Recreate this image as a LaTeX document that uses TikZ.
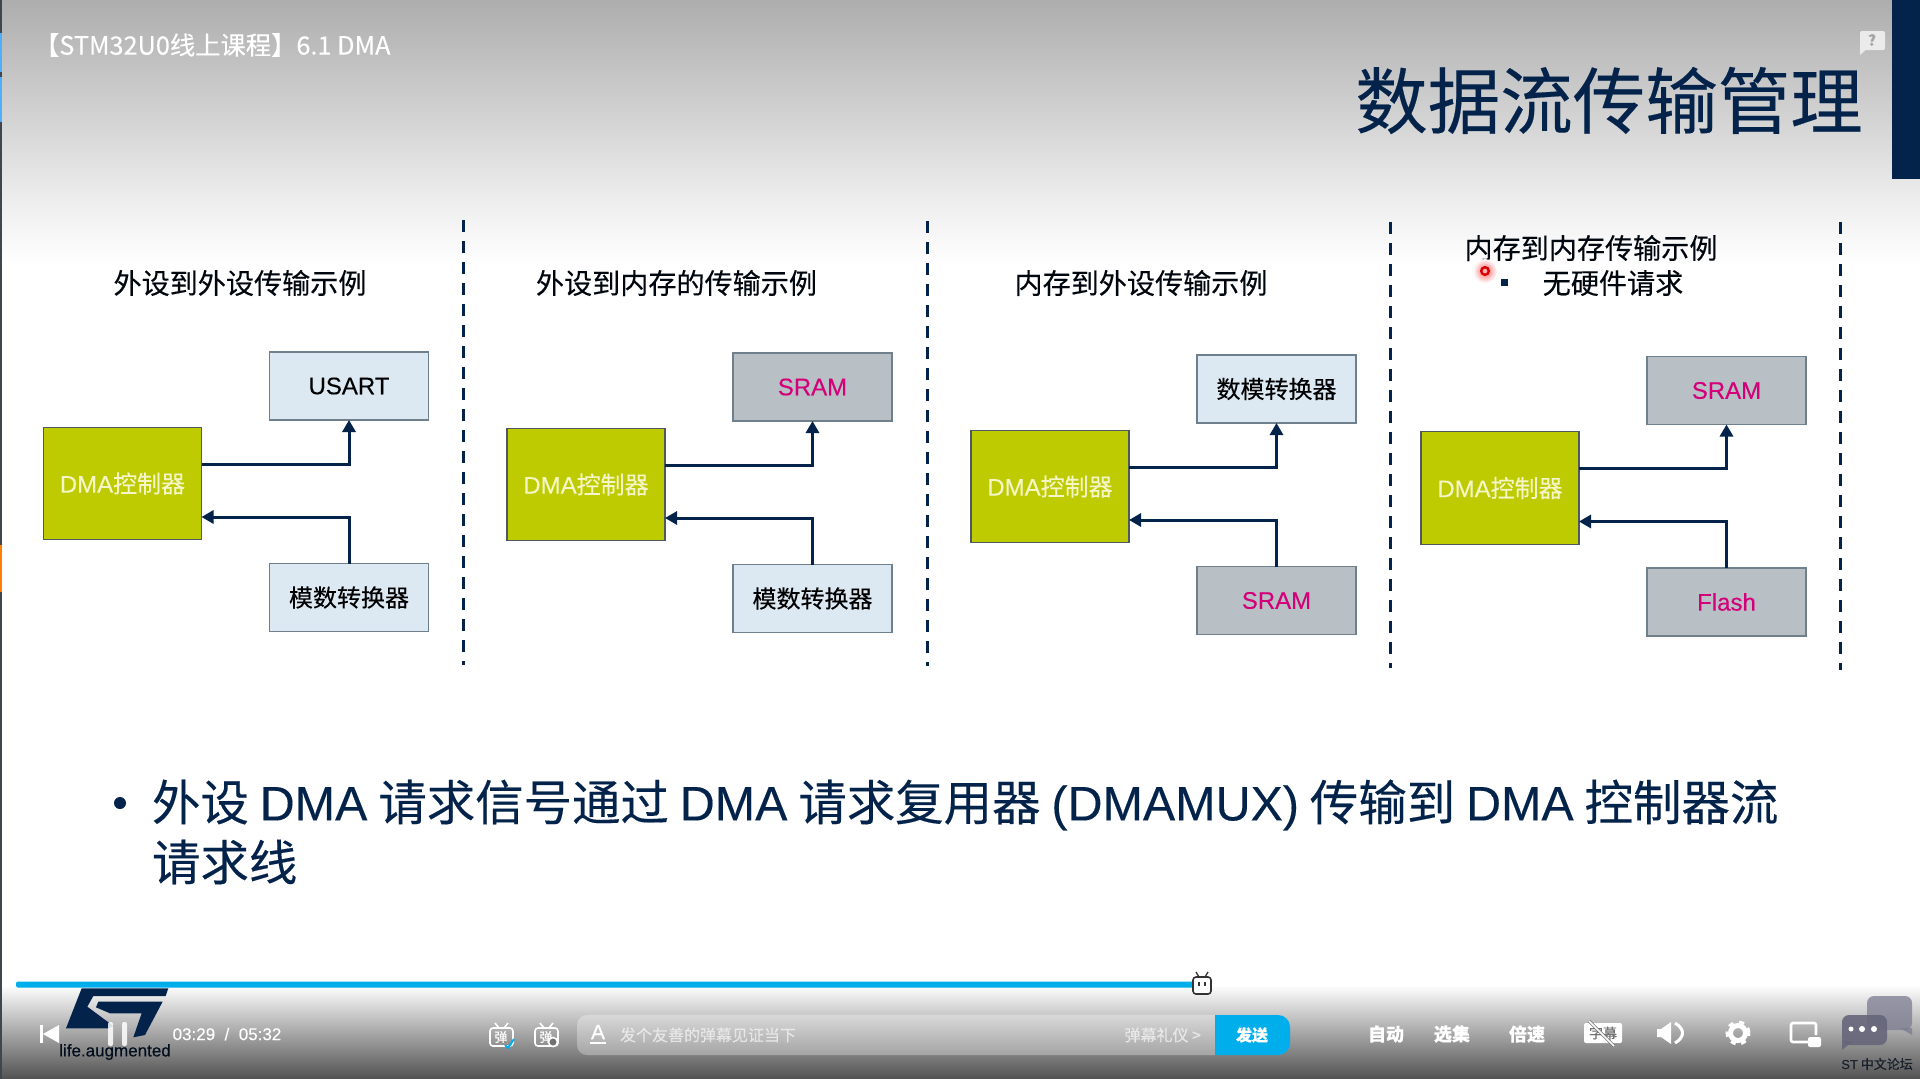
\documentclass[tikz,border=0pt]{standalone}
\usepackage{fontspec}
\usetikzlibrary{arrows.meta}
\setmainfont{Noto Sans CJK SC}[FakeBold=0.25]
\newfontfamily\lat{Liberation Sans}[FakeBold=0.25]
\newcommand{\fsz}[1]{\fontsize{#1}{#1}\selectfont}
\definecolor{navy}{HTML}{03234B}
\definecolor{lime}{HTML}{BECB00}
\definecolor{limetext}{HTML}{F4F6C8}
\definecolor{lightbox}{HTML}{DCE8F2}
\definecolor{greybox}{HTML}{B8BFC5}
\definecolor{magtext}{HTML}{D4007A}
\definecolor{edge}{HTML}{6F7F8C}
\definecolor{bili}{HTML}{00AEEC}
\tikzset{
  x=1pt,y=-1pt,
  every node/.style={inner sep=0pt,outer sep=0pt,align=center},
  dmabox/.style={draw=edge!70!black,line width=1.2pt,fill=lime,minimum width=158pt,minimum height=112.5pt,text=limetext,font=\fsz{24}},
  periph/.style={draw=edge,line width=1.2pt,fill=lightbox,minimum width=159pt,minimum height=68pt,text=black,font=\fsz{24}},
  memory/.style={periph,fill=greybox,text=magtext},
  flow/.style={draw=navy,line width=3pt,-{Triangle[length=12pt,width=13pt]},line join=miter},
  divider/.style={draw=navy,line width=3pt,dash pattern=on 12pt off 9pt},
  paneltitle/.style={text=black!80!navy,font=\fsz{28.1}},
  uitext/.style={text=white,font=\fsz{18}},
}
\newcommand{\dmapanel}[7]{%
  \begin{scope}[shift={(#2,#3)}]
    \node[dmabox] (#1dma) at (122.5,483.5) {{\lat DMA}控制器};
    \node[#4] (#1top) at (349,386) {#5};
    \node[#6] (#1bot) at (349,597.5) {#7};
    \draw[flow] ([yshift=19.5pt]#1dma.east) -| (#1top.south);
    \draw[flow] (#1bot.north) |- ([yshift=-33.5pt]#1dma.east);
  \end{scope}}
\begin{document}
\begin{tikzpicture}
\useasboundingbox (0,0) rectangle (1920,1079);
% background
\fill[white] (0,0) rectangle (1920,1079);
\shade[top color=black!32,bottom color=black!7] (0,0) rectangle (1920,200);
\shade[top color=black!7,bottom color=white] (0,200) rectangle (1920,265);
\shade[top color=white,bottom color=black!68] (0,985) rectangle (1920,1079);
% left edge
\fill[black!80!cyan] (0,0) rectangle (1.5,1079);
\fill[blue!45!cyan!70] (0,33) rectangle (1.5,72);
\fill[blue!45!cyan!70] (0,77) rectangle (1.5,122);
\fill[orange] (0,545) rectangle (1.5,592);
% slide title
\fill[navy] (1892,0) rectangle (1920,179);
\node[text=navy,font=\fsz{72.5},anchor=center] (slidetitle) at (1609,100.5) {数据流传输管理};
\node[text=white,font=\fsz{25.3},anchor=west] (videotitle) at (34,45) {【STM32U0线上课程】6.1 DMA};
% help badge
\fill[white!92!black,rounded corners=2pt] (1860,31) rectangle (1885,50);
\fill[white!92!black] (1860,48) -- (1860,55) -- (1868,48) -- cycle;
\node[text=black!35,font=\bfseries\fsz{15}] (helpmark) at (1872,40) {?};
% dividers
\draw[divider] (463,220) -- (463,665);
\draw[divider] (927,221) -- (927,666);
\draw[divider] (1390,222) -- (1390,668);
\draw[divider] (1840,222) -- (1840,670);
% panel titles
\node[paneltitle] (t1) at (240,283) {外设到外设传输示例};
\node[paneltitle] (t2) at (676.5,283) {外设到内存的传输示例};
\node[paneltitle] (t3) at (1141,283) {内存到外设传输示例};
\node[paneltitle] (t4) at (1591,248) {内存到内存传输示例};
\node[paneltitle] (t4b) at (1613,283) {无硬件请求};
\fill[navy] (1500.5,278.5) rectangle (1507.5,285.5);
% laser pointer
\shade[inner color=red!60,outer color=white] (1485,271) circle (12pt);
\draw[red!85!black,line width=2.4pt,fill=white!70!red] (1485,271) circle (3.8pt);
% panels
\dmapanel{a}{0}{0}{periph}{{\lat USART}}{periph}{模数转换器}
\dmapanel{b}{463.5}{1}{memory}{{\lat SRAM}}{periph}{模数转换器}
\dmapanel{c}{927.5}{3}{periph}{数模转换器}{memory}{{\lat SRAM}}
\dmapanel{d}{1377.5}{4.5}{memory}{{\lat SRAM}}{memory}{{\lat Flash}}
% bullet text
\fill[navy] (120,803) circle (6pt);
\node[text=navy,font=\fsz{48.45},anchor=west] (line1) at (152,805) {外设 {\lat DMA} 请求信号通过 {\lat DMA} 请求复用器 {\lat (DMAMUX)} 传输到 {\lat DMA} 控制器流};
\node[text=navy,font=\fsz{48.45},anchor=west] (line2) at (152,862) {请求线};
% ST logo
\begin{scope}[shift={(30,970)},x=.3333pt,y=-.3333pt]
  \fill[black!45] (180,36) rectangle (420,42);
  \fill[navy] (155,55) -- (415,55) -- (407,78) -- (190,78) -- (172,110) -- (250,168) -- (235,175) -- (108,175) -- cycle;
  \fill[navy] (205,95) -- (398,95) -- (345,195) -- (310,202) -- (335,130) -- (240,130) -- (198,112) -- cycle;
\end{scope}
\node[text=black!60!navy,font=\lat\fsz{17}] (lifeaug) at (115,1052) {life.augmented};
% progress
\fill[white,opacity=.7] (16,981.5) rectangle (1610,987);
\fill[bili,rounded corners=2pt] (16,981.5) rectangle (1196,987.5);
% mascot
\draw[black!75,line width=1.4pt] (1196,972) -- (1199,977) (1208,972) -- (1205,977);
\draw[black!80,line width=1.6pt,fill=white,rounded corners=3pt] (1193,977) rectangle (1211,994);
\draw[black!80,line width=1.4pt] (1199,982) -- (1199,986) (1205,982) -- (1205,986);
% controls
\fill[white] (40,1025) rectangle (43,1043);
\fill[white] (43,1034) -- (59,1025) -- (59,1043) -- cycle;
\fill[white,opacity=.85,rounded corners=2pt] (108,1022) rectangle (113,1046);
\fill[white,opacity=.85,rounded corners=2pt] (122,1022) rectangle (127,1046);
\node[uitext,font=\lat\fsz{17}] (timecode) at (227,1034) {03:29 \ / \ 05:32};
% danmaku icons
\draw[white,line width=1.6pt,rounded corners=3pt] (490,1028) rectangle (513,1046);
\draw[white,line width=1.6pt] (495,1023) -- (499,1028) (508,1023) -- (504,1028);
\node[uitext,font=\fsz{13}] (dm1) at (501,1037) {弹};
\draw[bili,line width=2pt] (505,1045) -- (508,1048) -- (514,1039);
\draw[white,line width=1.6pt,rounded corners=3pt] (535,1028) rectangle (558,1046);
\draw[white,line width=1.6pt] (540,1023) -- (544,1028) (553,1023) -- (549,1028);
\node[uitext,font=\fsz{13}] (dm2) at (546,1037) {弹};
\draw[white,line width=1.6pt,fill=black!55] (553,1042) circle (4.5pt);
% input box
\fill[white,opacity=.3,rounded corners=10pt] (577,1015) rectangle (1225,1055);
\node[uitext,font=\lat\fsz{21}] (fontA) at (598,1032) {A};
\fill[white] (590,1042) rectangle (606,1044);
\node[text=white,opacity=.6,font=\fsz{16},anchor=west] (placeholder) at (620,1035) {发个友善的弹幕见证当下};
\node[text=white,opacity=.6,font=\fsz{16},anchor=east] (etiquette) at (1201,1035) {弹幕礼仪 >};
\fill[bili] (1215,1015) [rounded corners=12pt] -- (1290,1015) -- (1290,1055) [sharp corners] -- (1215,1055) -- cycle;
\node[uitext,font=\bfseries\fsz{16}] (send) at (1252,1035) {发送};
% right controls
\node[uitext,font=\bfseries\fsz{18}] (auto) at (1386,1034) {自动};
\node[uitext,font=\bfseries\fsz{18}] (episodes) at (1452,1034) {选集};
\node[uitext,font=\bfseries\fsz{18}] (speed) at (1527,1034) {倍速};
\fill[white,rounded corners=2pt] (1584,1023) rectangle (1622,1043);
\node[text=black!55,font=\fsz{14}] (subs) at (1603,1033) {字幕};
\draw[black!55,line width=3pt] (1589,1021) -- (1614,1046);
\draw[white,line width=1.6pt] (1589,1021) -- (1614,1046);
\fill[white] (1657,1029) -- (1661,1029) -- (1671,1022) -- (1671,1044) -- (1661,1037) -- (1657,1037) -- cycle;
\draw[white,line width=3pt] (1675,1023) .. controls (1685,1029) and (1685,1037) .. (1675,1043);
\draw[white,line width=5pt] (1738,1033) circle (7.5pt);
\draw[white,line width=4pt,dash pattern=on 5pt off 5.47pt] (1738,1033) circle (10.5pt);
\draw[white,line width=2.6pt,rounded corners=2pt] (1810,1042) -- (1791,1042) -- (1791,1023) -- (1816,1023) -- (1816,1035);
\fill[white,rounded corners=2pt] (1808,1037) rectangle (1821,1047);
% forum badge
\fill[black!40!blue!15!gray!90,opacity=.75,rounded corners=7pt] (1867,996) rectangle (1912,1030);
\fill[black!40!blue!15!gray!90,opacity=.75] (1900,1028) -- (1912,1028) -- (1912,1035) -- cycle;
\fill[black!60!blue!20!gray,opacity=.9,rounded corners=7pt] (1842,1015) rectangle (1887,1045);
\fill[black!60!blue!20!gray,opacity=.9] (1842,1040) -- (1842,1050) -- (1852,1042) -- cycle;
\fill[white] (1851,1029) circle (2.5pt) (1862,1029) circle (3pt) (1874,1029) circle (3pt);
\node[text=black!65!navy,opacity=.75,font=\fsz{13}] (forum) at (1877,1064) {{\lat ST} 中文论坛};
\end{tikzpicture}
\end{document}
